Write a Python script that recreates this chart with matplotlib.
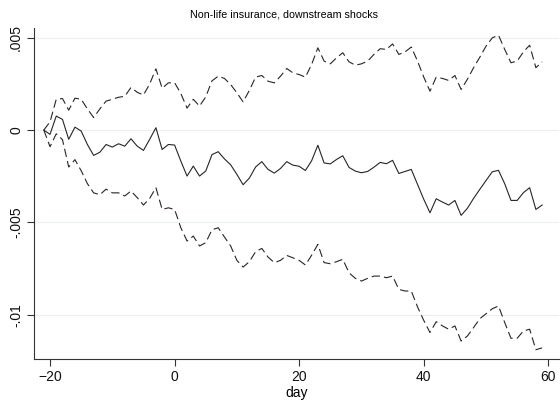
import numpy as np
import matplotlib
matplotlib.use("Agg")
import matplotlib.pyplot as plt

# ─────────────────────────────────────────────
# DATOS: CAR medio y bandas de confianza por día
# ─────────────────────────────────────────────
dias = list(range(-21, 60))

car_medio = [
    0.0, -0.00023, 0.00076, 0.00058, -0.0005, 0.00016, -0.00005, -0.00078,
    -0.00137, -0.0012, -0.00078, -0.00092, -0.00074, -0.00087, -0.00047, -0.00087,
    -0.0011, -0.0005, 0.00013, -0.00105, -0.00078, -0.00081, -0.00168, -0.00249,
    -0.00195, -0.00249, -0.00222, -0.00133, -0.00117, -0.00156, -0.00188, -0.0024,
    -0.00296, -0.0026, -0.002, -0.00171, -0.00213, -0.00233, -0.00208, -0.00171,
    -0.0019, -0.00196, -0.00219, -0.00166, -0.00082, -0.00178, -0.00183, -0.00159,
    -0.00139, -0.00202, -0.00222, -0.00231, -0.00224, -0.00201, -0.00175, -0.00182,
    -0.00164, -0.00235, -0.00224, -0.00213, -0.00294, -0.00375, -0.00448, -0.00372,
    -0.0039, -0.00406, -0.00381, -0.00462, -0.00424, -0.0037, -0.00321, -0.00273,
    -0.00226, -0.00218, -0.00291, -0.00381, -0.00381, -0.00339, -0.00312, -0.0043,
    -0.00406,
]

banda_sup = [
    0.0, 0.00045, 0.00167, 0.00171, 0.00108, 0.00173, 0.00167, 0.00115,
    0.00068, 0.00115, 0.00157, 0.00167, 0.00178, 0.00183, 0.00231, 0.00205,
    0.0019, 0.0025, 0.00332, 0.00227, 0.00256, 0.00257, 0.00198, 0.00119,
    0.00167, 0.0013, 0.0018, 0.00267, 0.00292, 0.0028, 0.00247, 0.00202,
    0.00153, 0.00215, 0.00287, 0.00296, 0.00265, 0.00256, 0.00292, 0.00334,
    0.0031, 0.00301, 0.00287, 0.00356, 0.00446, 0.00374, 0.00359, 0.00392,
    0.00419, 0.0037, 0.00352, 0.00359, 0.00374, 0.0041, 0.00441, 0.00437,
    0.00467, 0.0041, 0.00424, 0.0045, 0.00374, 0.00287, 0.00211, 0.00287,
    0.0028, 0.00269, 0.00296, 0.0022, 0.00275, 0.00338, 0.00395, 0.00455,
    0.005, 0.00514, 0.00437, 0.00365, 0.00374, 0.00424, 0.0046, 0.00338,
    0.0037,
]

banda_inf = [
    0.0, -0.0009, -0.0002, -0.00052, -0.002, -0.0016, -0.0022, -0.0029,
    -0.0034, -0.0035, -0.0032, -0.0034, -0.0034, -0.00357, -0.0033, -0.00366,
    -0.00406, -0.0037, -0.00312, -0.0043, -0.00421, -0.0043, -0.00529, -0.00601,
    -0.00574, -0.00628, -0.0061, -0.0054, -0.00529, -0.00579, -0.00628, -0.00706,
    -0.00742, -0.00713, -0.00659, -0.00641, -0.00688, -0.00718, -0.00706, -0.00679,
    -0.00692, -0.00706, -0.00731, -0.00678, -0.00619, -0.00718, -0.00724, -0.00713,
    -0.007, -0.00773, -0.00803, -0.00818, -0.00803, -0.00791, -0.00791, -0.008,
    -0.00791, -0.00863, -0.00872, -0.00872, -0.00958, -0.01031, -0.01097, -0.01038,
    -0.01061, -0.01079, -0.01061, -0.01143, -0.01116, -0.0107, -0.01022, -0.00995,
    -0.00968, -0.00953, -0.01043, -0.01128, -0.01128, -0.01088, -0.01079, -0.0119,
    -0.0118,
]

xticks = [-20, 0, 20, 40, 60]
yticks = [-0.01, -0.005, 0, 0.005]
yticklabels = ["-.01", "-.005", "0", ".005"]

# ─────────────────────────────────────────────
# GRÁFICA
# ─────────────────────────────────────────────
plt.rcParams['font.family'] = ['Liberation Sans', 'DejaVu Sans']
plt.rcParams['lines.scale_dashes'] = False

fig = plt.figure(figsize=(5.6, 4.03), dpi=100)
ax = fig.add_axes([0.0613, 0.1084, 0.937, 0.822])

color_linea = "#262626"
ax.plot(dias, car_medio, color=color_linea, linewidth=0.8)
ax.plot(dias, banda_sup, color=color_linea, linewidth=0.8, dashes=(6, 3))
ax.plot(dias, banda_inf, color=color_linea, linewidth=0.8, dashes=(6, 3))

ax.set_xlim(-22.52, 61.72)
ax.set_ylim(-0.01242, 0.00553)

ax.set_xticks(xticks)
ax.set_yticks(yticks)
ax.set_yticklabels(yticklabels, rotation=90, va='center')
ax.tick_params(axis='both', labelsize=10, length=5, width=0.8,
               color="#333333", labelcolor="#111111", pad=3)

ax.yaxis.grid(True, color="#e8f0f2", linewidth=0.8)
ax.set_axisbelow(True)
for lado in ['top', 'right']:
    ax.spines[lado].set_visible(False)
for lado in ['left', 'bottom']:
    ax.spines[lado].set_color("#333333")
    ax.spines[lado].set_linewidth(0.8)

ax.set_xlabel("day", fontsize=10, labelpad=1)
fig.text(0.508, 0.965, "Non-life insurance, downstream shocks",
         ha='center', va='center', fontsize=7.7)

fig.savefig("out.png", dpi=100)
